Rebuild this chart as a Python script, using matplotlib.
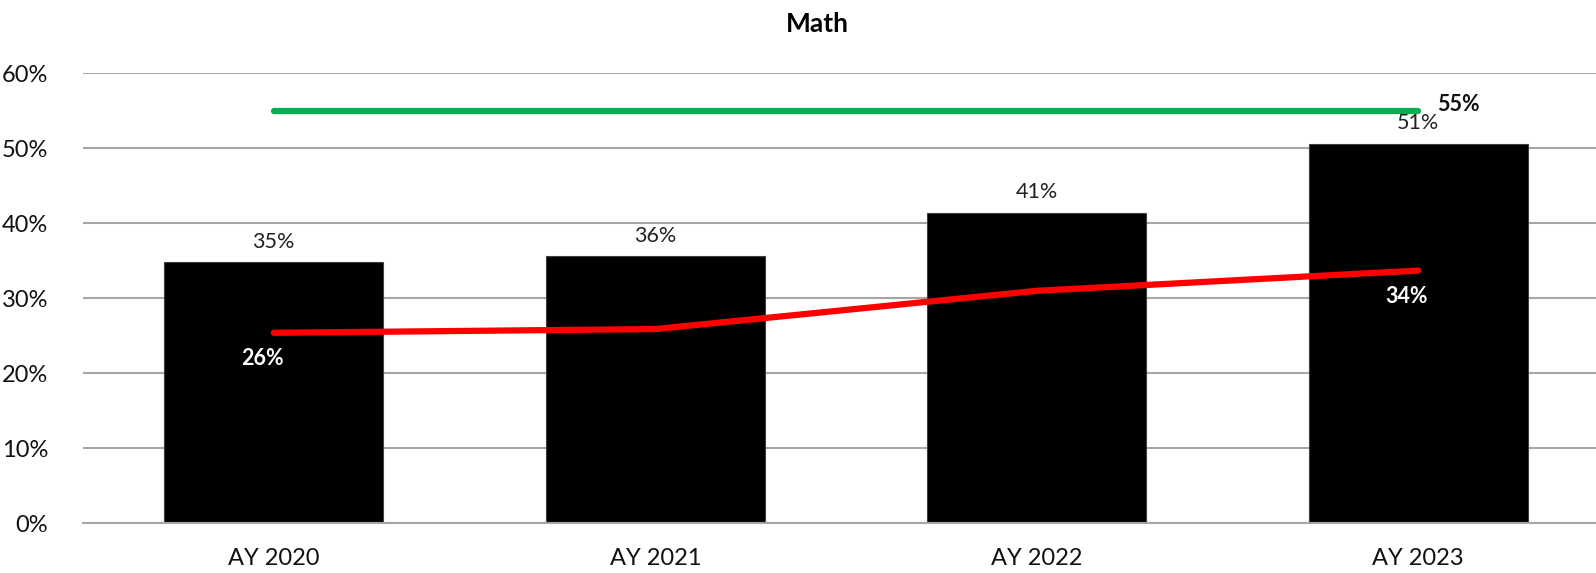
import matplotlib.pyplot as plt
import numpy as np

plt.rcParams['font.family'] = ['Lato', 'DejaVu Sans']

years = ["AY 2020", "AY 2021", "AY 2022", "AY 2023"]
bar_values = [0.348, 0.356, 0.414, 0.506]
bar_labels = ["35%", "36%", "41%", "51%"]
line_values = [0.254, 0.259, 0.310, 0.337]
line_labels = ["26%", "", "", "34%"]
target_value = 0.55
target_label = "55%"

W, H = 1596, 573
fig = plt.figure(figsize=(W / 100, H / 100), dpi=100)
# plot area runs a little past the right edge of the picture, like the source
ax = fig.add_axes([83 / W, 1 - 523.3 / H, (1609 - 83) / W, 450 / H])

x = np.arange(len(years))
ax.bar(x, bar_values, width=0.575, color="black", edgecolor="#404040", linewidth=0.8, zorder=2)
ax.plot(x, line_values, color="#ff0000", linewidth=4.5, solid_capstyle="round", zorder=3)
ax.plot(x, [target_value] * len(x), color="#00b050", linewidth=4.5, solid_capstyle="round", zorder=3)

for xi, v, lab in zip(x, bar_values, bar_labels):
    ax.text(xi, v + 0.014, lab, ha="center", va="bottom", fontsize=15.5, color="#222222")
for xi, v, lab in zip(x, line_values, line_labels):
    if lab:
        ax.text(xi - 0.03, v - 0.02, lab, ha="center", va="top", fontsize=15.5,
                fontweight="bold", color="white", zorder=4)
ax.text(x[-1] + 0.05, target_value + 0.008, target_label, ha="left", va="center",
        fontsize=15.5, fontweight="bold", color="#111111")

ax.set_xlim(-0.5, len(years) - 0.5)
ax.set_ylim(0, 0.6)
ticks = np.arange(0, 0.61, 0.1)
ax.set_yticks(ticks)
ax.set_yticklabels([f"{int(round(t * 100))}%" for t in ticks])
ax.set_xticks(x)
ax.set_xticklabels(years)
ax.tick_params(axis="both", length=0, labelsize=17, colors="#111111")
ax.tick_params(axis="y", pad=25)
ax.tick_params(axis="x", pad=18)
ax.grid(axis="y", color="#a6a6a6", linewidth=1.5, zorder=0)
ax.set_axisbelow(True)
for s in ["top", "right", "left"]:
    ax.spines[s].set_visible(False)
ax.spines["bottom"].set_color("#a6a6a6")
ax.spines["bottom"].set_linewidth(1.5)

fig.text(817 / W, 1 - 24 / H, "Math", ha="center", va="center", fontsize=19, fontweight="bold")

fig.savefig("out.png", dpi=100)
